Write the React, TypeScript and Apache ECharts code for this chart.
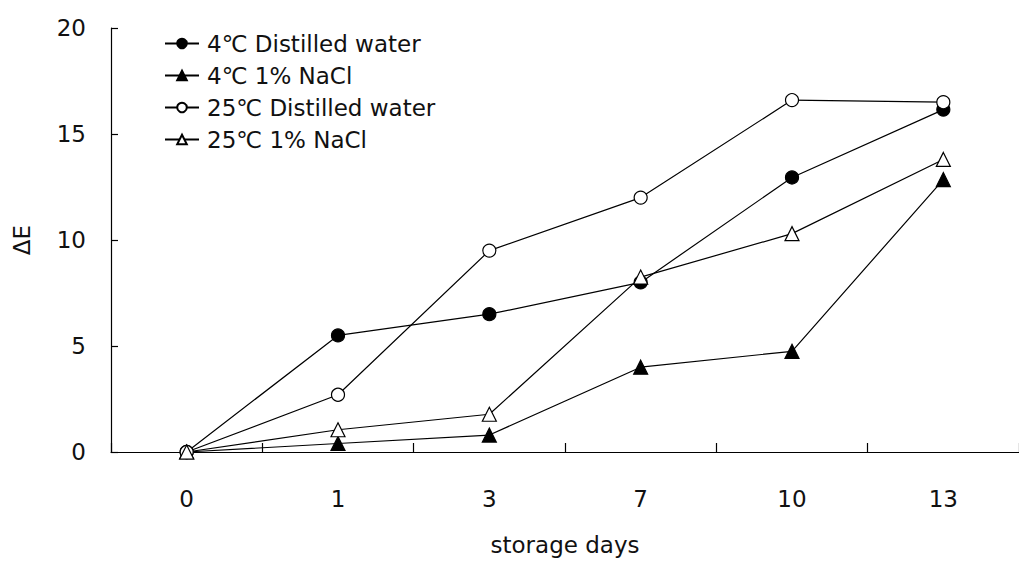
import React, { useEffect, useRef } from "react";
import * as echarts from "echarts";

const categories = ["0", "1", "3", "7", "10", "13"];
const dw4 = [0, 5.5, 6.5, 8.0, 12.95, 16.15];
const nacl4 = [0, 0.4, 0.8, 4.0, 4.75, 12.85];
const dw25 = [0, 2.7, 9.5, 12.0, 16.6, 16.5];
const nacl25 = [0, 1.05, 1.78, 8.25, 10.3, 13.8];
const seriesNames = ["4℃ Distilled water", "4℃ 1% NaCl", "25℃ Distilled water", "25℃ 1% NaCl"];

const FONT = "'DejaVu Sans', sans-serif";

export default function App() {
  const ref = useRef<HTMLDivElement>(null);
  useEffect(() => {
    if (!ref.current) return;
    const chart = echarts.init(ref.current, null, { renderer: "svg" });
    const mk = (name: string, data: number[], symbol: string, filled: boolean, size: number) => ({
      name,
      type: "line",
      data,
      symbol,
      symbolSize: size,
      showAllSymbol: true,
      lineStyle: { color: "#000", width: 1.2 },
      itemStyle: { color: filled ? "#000" : "#fff", borderColor: "#000", borderWidth: 1.2 },
      z: 3,
    });
    chart.setOption({
      animation: false,
      backgroundColor: "#fff",
      textStyle: { fontFamily: FONT, color: "#111" },
      grid: { left: 111, top: 28, width: 910, height: 424 },
      legend: {
        orient: "vertical",
        left: 159,
        top: 27,
        itemWidth: 34,
        itemHeight: 12,
        itemGap: 9,
        data: seriesNames,
        textStyle: { fontSize: 23, fontFamily: FONT, color: "#111", padding: [0, 0, 0, 3] },
      },
      xAxis: {
        type: "category",
        data: categories,
        boundaryGap: true,
        axisLine: { lineStyle: { color: "#000", width: 1.2 } },
        axisTick: { show: true, inside: true, length: 9, lineStyle: { color: "#000", width: 1.2 } },
        axisLabel: { fontSize: 23, color: "#111", margin: 35, fontFamily: FONT },
        name: "storage days",
        nameLocation: "middle",
        nameGap: 81,
        nameTextStyle: { fontSize: 23, color: "#111", fontFamily: FONT },
      },
      yAxis: {
        type: "value",
        min: 0,
        max: 20,
        interval: 5,
        splitLine: { show: false },
        axisLine: { show: true, lineStyle: { color: "#000", width: 1.2 } },
        axisTick: { show: true, inside: true, length: 7, lineStyle: { color: "#000", width: 1.2 } },
        axisLabel: { fontSize: 23, color: "#111", margin: 25, fontFamily: FONT },
        name: "ΔE",
        nameLocation: "middle",
        nameGap: 78,
        nameTextStyle: { fontSize: 23, color: "#111", fontFamily: FONT },
      },
      series: [
        mk(seriesNames[0], dw4, "circle", true, 13),
        mk(seriesNames[1], nacl4, "triangle", true, 14),
        mk(seriesNames[2], dw25, "circle", false, 13),
        mk(seriesNames[3], nacl25, "triangle", false, 14),
      ],
    });
    return () => chart.dispose();
  }, []);
  return <div ref={ref} style={{ position: "fixed", left: 0, top: 0, width: 1019, height: 565 }} />;
}
